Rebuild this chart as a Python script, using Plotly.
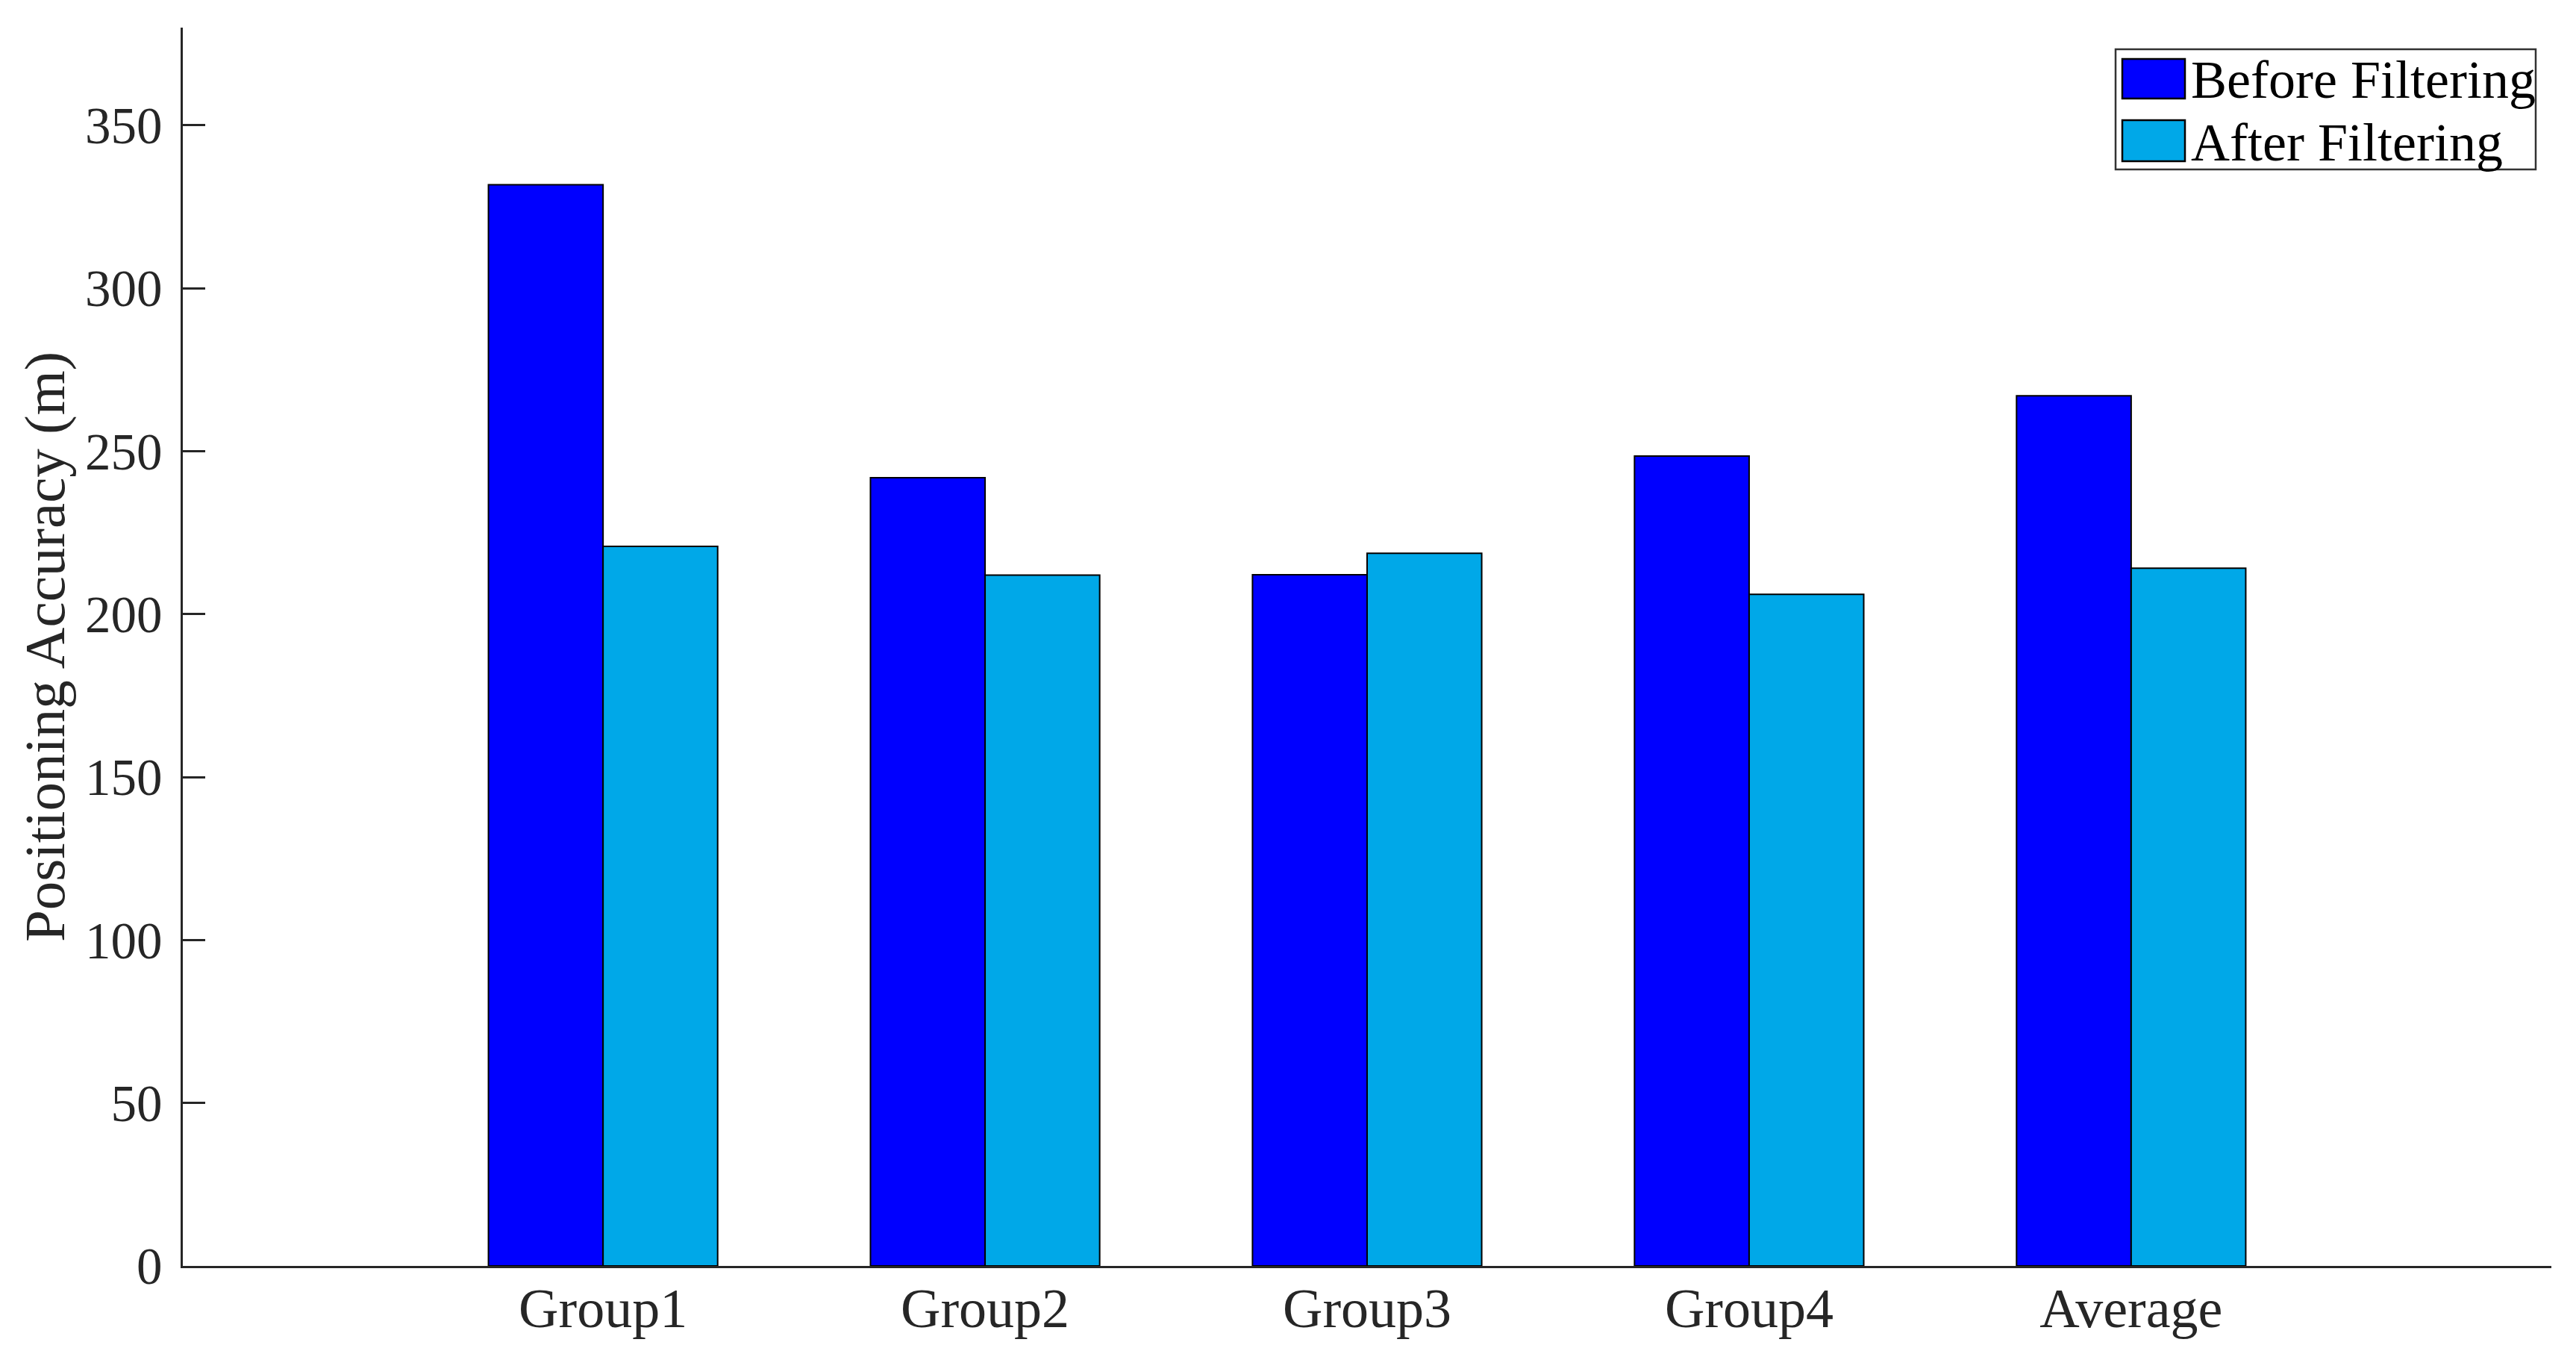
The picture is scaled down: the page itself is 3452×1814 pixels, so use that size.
import plotly.graph_objects as go

categories = ["Group1", "Group2", "Group3", "Group4", "Average"]
before_filtering = [331.8, 241.9, 212.1, 248.5, 267.0]
after_filtering = [220.8, 212.0, 218.7, 206.1, 214.1]
y_ticks = [0, 50, 100, 150, 200, 250, 300, 350]
series_names = ["Before Filtering", "After Filtering"]
series_colors = ["#0000FF", "#00A8E8"]

x_pos = list(range(1, len(categories) + 1))

fig = go.Figure()
for name, vals, col in zip(series_names, [before_filtering, after_filtering], series_colors):
    fig.add_trace(go.Bar(
        x=x_pos, y=vals, name=name,
        marker=dict(color=col, line=dict(color="black", width=2)),
        showlegend=False,
    ))

# page body has an 8px margin, so the figure is shifted by 8px
OFF = 8
W, H = 3452 - OFF, 1814 - OFF
L, R, T, B = 245 - OFF, 33, 37 - OFF, 118

fig.update_layout(
    width=W, height=H,
    margin=dict(l=L, r=R, t=T, b=B, pad=0, autoexpand=False),
    paper_bgcolor="white", plot_bgcolor="white",
    barmode="group", bargap=0.4, bargroupgap=0,
    font=dict(family="Liberation Serif", color="#262626"),
    xaxis=dict(
        range=[-0.1, 6.1], tickmode="array", tickvals=x_pos, ticktext=categories,
        showline=True, linecolor="#262626", linewidth=2.5, ticks="",
        showgrid=False, zeroline=False, tickfont=dict(size=74, color="#262626"),
        ticklabelstandoff=-10, automargin=False,
    ),
    yaxis=dict(
        range=[0, 380], tickmode="array", tickvals=y_ticks,
        showline=True, linecolor="#262626", linewidth=2.5,
        ticks="inside", ticklen=30, tickwidth=2.5, tickcolor="#262626",
        showgrid=False, zeroline=False, tickfont=dict(size=69, color="#262626"),
        ticklabelstandoff=11, automargin=False,
    ),
)

# page-pixel position -> paper coordinate
def px_x(x):
    return (x - OFF - L) / (W - L - R)

def px_y(y):
    return 1 - (y - OFF - T) / (H - T - B)

fig.add_annotation(xref="paper", yref="paper", x=px_x(60), y=px_y(867),
                   text="Positioning Accuracy (m)", textangle=-90, showarrow=False,
                   xanchor="center", yanchor="middle",
                   font=dict(family="Liberation Serif", size=77, color="#262626"))

fig.add_shape(type="rect", xref="paper", yref="paper",
              x0=px_x(2835), x1=px_x(3398), y0=px_y(227), y1=px_y(66),
              line=dict(color="#333333", width=2.5), fillcolor="white", layer="above")
rows = [(79, 132), (161, 216)]
for (y0, y1), name, col in zip(rows, series_names, series_colors):
    fig.add_shape(type="rect", xref="paper", yref="paper",
                  x0=px_x(2844), x1=px_x(2928), y0=px_y(y1), y1=px_y(y0),
                  line=dict(color="black", width=2.5), fillcolor=col, layer="above")
    fig.add_annotation(xref="paper", yref="paper", x=px_x(2934), y=px_y((y0 + y1) / 2 + 2),
                       text=name, showarrow=False, xanchor="left", yanchor="middle",
                       font=dict(family="Liberation Serif", size=72, color="black"))

fig.write_html("out.html")
